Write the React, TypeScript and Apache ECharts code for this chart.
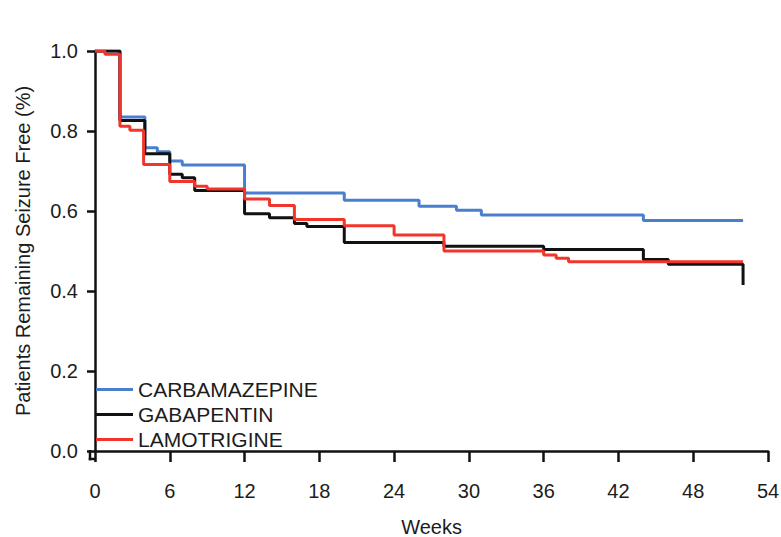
import React, { useEffect, useRef } from "react";
import * as echarts from "echarts";

const seriesNames = ["CARBAMAZEPINE", "GABAPENTIN", "LAMOTRIGINE"];

const carbaWeeks = [0, 2, 4, 5, 6, 7, 12, 20, 26, 29, 31, 44, 52];
const carbaValues = [1.0, 0.835, 0.758, 0.748, 0.725, 0.715, 0.645, 0.627, 0.612, 0.602, 0.59, 0.576, 0.576];

const gabaWeeks = [0, 2, 4, 6, 7, 8, 12, 14, 16, 17, 20, 28, 36, 44, 46, 52, 52];
const gabaValues = [1.0, 0.826, 0.743, 0.692, 0.683, 0.651, 0.593, 0.583, 0.569, 0.561, 0.521, 0.512, 0.504, 0.479, 0.467, 0.467, 0.415];

const lamoWeeks = [0, 0.8, 2, 2.8, 3.9, 6, 8, 9, 12, 14, 16, 20, 24, 28, 36, 37, 38, 52];
const lamoValues = [1.0, 0.992, 0.812, 0.802, 0.716, 0.674, 0.662, 0.655, 0.63, 0.614, 0.579, 0.563, 0.54, 0.5, 0.49, 0.482, 0.473, 0.473];

const colors = ["#4a7fcd", "#111111", "#f2352b"];

const xTicks = { min: 0, max: 54, interval: 6 };
const yTicks = { min: 0, max: 1, interval: 0.2 };

const FONT = "'Liberation Sans', Arial, Helvetica, sans-serif";

function pairs(w: number[], v: number[]) {
  return w.map((x, i) => [x, v[i]]);
}

export default function App() {
  const ref = useRef<HTMLDivElement>(null);
  useEffect(() => {
    if (!ref.current) return;
    const chart = echarts.init(ref.current, undefined, { renderer: "svg" });
    const gridLeft = 95;
    const gridTop = 51;
    const gridRight = 13;
    const gridBottom = 86;
    const yOffset = 5;
    const xOffset = 8;
    const axisX = gridLeft - yOffset;
    const axisY = 537 - gridBottom + xOffset;
    const datasets = [
      pairs(carbaWeeks, carbaValues),
      pairs(gabaWeeks, gabaValues),
      pairs(lamoWeeks, lamoValues),
    ];
    chart.setOption({
      animation: false,
      backgroundColor: "#ffffff",
      grid: {
        left: gridLeft,
        top: gridTop,
        right: gridRight,
        bottom: gridBottom,
        containLabel: false,
        outerBoundsMode: "none",
      },
      legend: {
        orient: "vertical",
        left: 96,
        top: 379,
        padding: 0,
        itemGap: 4,
        itemWidth: 37,
        itemHeight: 3,
        icon: "rect",
        data: seriesNames,
        textStyle: { fontFamily: FONT, fontSize: 21, color: "#1c1c1c", lineHeight: 20, padding: [0, 0, 0, 0] },
      },
      xAxis: {
        type: "value",
        min: xTicks.min,
        max: xTicks.max,
        interval: xTicks.interval,
        offset: xOffset,
        name: "Weeks",
        nameLocation: "middle",
        nameGap: 58,
        nameTextStyle: { fontFamily: FONT, fontSize: 20, color: "#1c1c1c" },
        axisLine: { show: true, lineStyle: { color: "#111", width: 2.5 } },
        axisTick: { show: true, length: 11, lineStyle: { color: "#111", width: 2.5 } },
        axisLabel: { margin: 22, fontFamily: FONT, fontSize: 20, color: "#1c1c1c" },
        splitLine: { show: false },
      },
      yAxis: {
        type: "value",
        min: yTicks.min,
        max: yTicks.max,
        interval: yTicks.interval,
        offset: yOffset,
        name: "Patients Remaining Seizure Free (%)",
        nameLocation: "middle",
        nameGap: 57,
        nameTextStyle: { fontFamily: FONT, fontSize: 20, color: "#1c1c1c" },
        axisLine: { show: true, lineStyle: { color: "#111", width: 2.5 } },
        axisTick: { show: true, length: 8, lineStyle: { color: "#111", width: 2.5 } },
        axisLabel: {
          margin: 12,
          fontFamily: FONT,
          fontSize: 20,
          color: "#1c1c1c",
          formatter: (v: number) => v.toFixed(1),
        },
        splitLine: { show: false },
      },
      graphic: [
        {
          type: "line",
          shape: { x1: axisX, y1: 537 - gridBottom - 1, x2: axisX, y2: axisY + 1.25 },
          style: { stroke: "#111", lineWidth: 2.5 },
        },
        {
          type: "line",
          shape: { x1: axisX - 1.25, y1: axisY, x2: gridLeft + 1, y2: axisY },
          style: { stroke: "#111", lineWidth: 2.5 },
        },
      ],
      series: seriesNames.map((name, i) => ({
        name,
        type: "line",
        step: "end",
        showSymbol: false,
        symbol: "none",
        data: datasets[i],
        color: colors[i],
        lineStyle: { color: colors[i], width: 3 },
        z: 2 + i,
      })),
    });
    return () => chart.dispose();
  }, []);
  return (
    <div
      ref={ref}
      style={{ position: "fixed", left: 0, top: 0, width: 781, height: 537, background: "#fff" }}
    />
  );
}
